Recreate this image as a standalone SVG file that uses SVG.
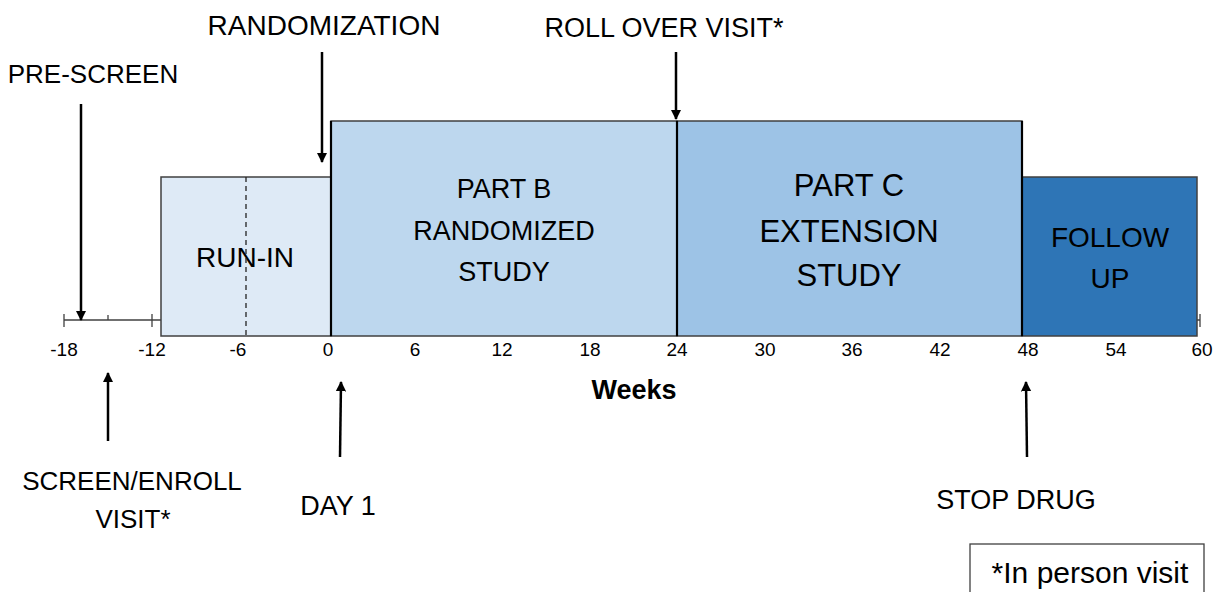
<svg xmlns="http://www.w3.org/2000/svg" width="1215" height="592" viewBox="0 0 1215 592">
<style>
.t{font-family:"Liberation Sans",Arial,sans-serif;fill:#000;text-anchor:middle}
.lb{font-size:27px}
.tk{font-size:19px}
.box{stroke:#404040;stroke-width:1.5}
.div{stroke:#000;stroke-width:2.2}
.arr{stroke:#000;stroke-width:2.5;fill:none;marker-end:url(#ah)}
.ax{stroke:#404040;stroke-width:1.3;fill:none}
</style>
<defs>
<marker id="ah" viewBox="0 0 10 10" refX="9" refY="5" markerWidth="4.2" markerHeight="4.5" orient="auto" markerUnits="strokeWidth">
<path d="M0,0 L10,5 L0,10 z" fill="#000"/>
</marker>
</defs>
<rect width="1215" height="592" fill="#fff"/>
<g id="axis">
<line class="ax" x1="64" y1="320" x2="1200" y2="320"/>
<line class="ax" x1="64" y1="314" x2="64" y2="327"/>
<line class="ax" x1="108" y1="315" x2="108" y2="320"/>
<line class="ax" x1="152" y1="314" x2="152" y2="327"/>
<line class="ax" x1="1200" y1="314" x2="1200" y2="327"/>
</g>
<g id="run-in">
<rect class="box" x="161" y="177" width="170" height="159" fill="#DEEAF6"/>
<text class="t" x="245" y="267" style="font-size:28px">RUN-IN</text>
<line x1="246" y1="177" x2="246" y2="336" stroke="#222" stroke-width="1.3" stroke-dasharray="5,4"/>
</g>
<g id="part-b">
<rect class="box" x="331" y="121" width="346" height="215" fill="#BDD7EE"/>
<text class="t" x="504" y="198" style="font-size:27px">PART B</text>
<text class="t" x="504" y="240" style="font-size:27px">RANDOMIZED</text>
<text class="t" x="504" y="281" style="font-size:27px">STUDY</text>
</g>
<g id="part-c">
<rect class="box" x="677" y="121" width="345" height="215" fill="#9DC3E6"/>
<text class="t" x="849" y="196" style="font-size:31px">PART C</text>
<text class="t" x="849" y="242" style="font-size:31px">EXTENSION</text>
<text class="t" x="849" y="286" style="font-size:31px">STUDY</text>
</g>
<g id="follow-up">
<rect class="box" x="1022" y="177" width="175" height="159" fill="#2E75B6"/>
<text class="t" x="1110" y="247" style="font-size:28px">FOLLOW</text>
<text class="t" x="1110" y="288" style="font-size:28px">UP</text>
</g>
<g id="dividers">
<line class="div" x1="331" y1="121" x2="331" y2="336"/>
<line class="div" x1="677" y1="121" x2="677" y2="336"/>
<line class="div" x1="1022" y1="121" x2="1022" y2="336"/>
</g>
<g id="tick-labels" class="t tk">
<text x="64" y="356">-18</text>
<text x="152" y="356">-12</text>
<text x="238" y="356">-6</text>
<text x="328" y="356">0</text>
<text x="415" y="356">6</text>
<text x="502" y="356">12</text>
<text x="590" y="356">18</text>
<text x="677" y="356">24</text>
<text x="765" y="356">30</text>
<text x="852" y="356">36</text>
<text x="940" y="356">42</text>
<text x="1028" y="356">48</text>
<text x="1116" y="356">54</text>
<text x="1202" y="356">60</text>
</g>
<g id="weeks"><text class="t" x="634" y="399" style="font-size:27px;font-weight:bold">Weeks</text></g>
<g id="connectors">
<line class="arr" x1="81" y1="104" x2="81" y2="320"/>
<line class="arr" x1="322" y1="52" x2="322" y2="162"/>
<line class="arr" x1="676" y1="52" x2="676" y2="119"/>
<line class="arr" x1="108" y1="441" x2="108" y2="373"/>
<line class="arr" x1="340" y1="457" x2="341" y2="382"/>
<line class="arr" x1="1027" y1="457" x2="1026" y2="382"/>
</g>
<g id="label-pre-screen"><text class="t lb" x="93" y="83" style="font-size:26px">PRE-SCREEN</text></g>
<g id="label-randomization"><text class="t lb" x="324" y="35" style="font-size:28px">RANDOMIZATION</text></g>
<g id="label-rollover"><text class="t lb" x="664" y="37">ROLL OVER VISIT*</text></g>
<g id="label-screen"><text class="t lb" x="132" y="490" style="font-size:26px">SCREEN/ENROLL</text><text class="t lb" x="133" y="528" style="font-size:26px">VISIT*</text></g>
<g id="label-day1"><text class="t lb" x="338" y="515">DAY 1</text></g>
<g id="label-stop"><text class="t lb" x="1016" y="509">STOP DRUG</text></g>
<g id="legend">
<rect x="970" y="544" width="234" height="60" fill="#fff" stroke="#404040" stroke-width="1.3"/>
<text class="t" x="1090" y="583" style="font-size:30px">*In person visit</text>
</g>
</svg>
